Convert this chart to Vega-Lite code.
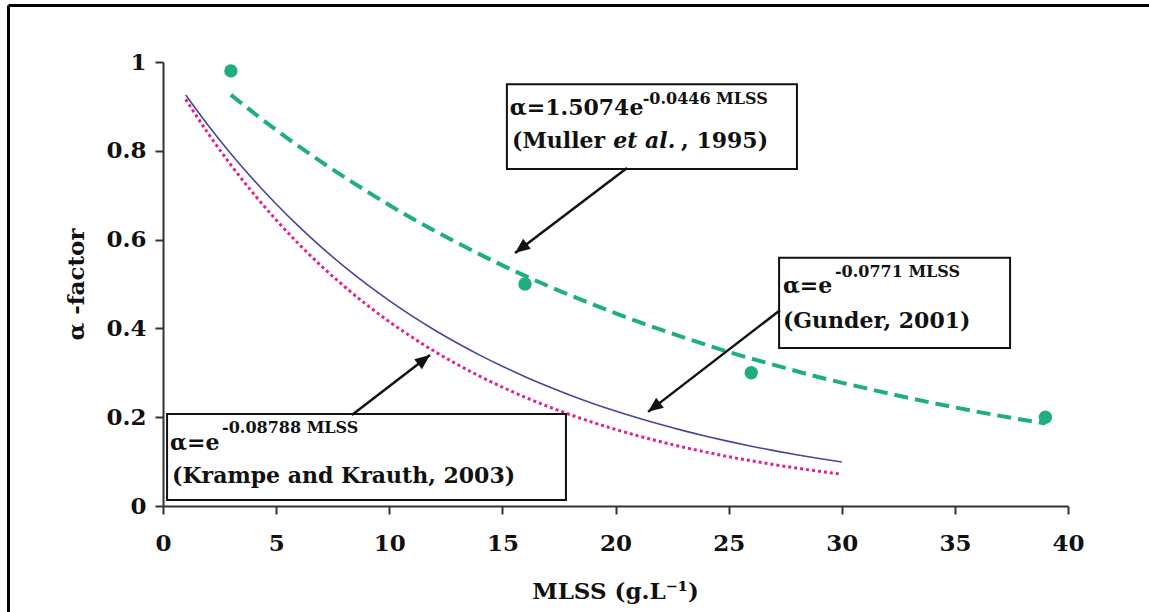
{
  "$schema": "https://vega.github.io/schema/vega-lite/v6.json",
  "width": 905,
  "height": 444,
  "autosize": {"type": "none"},
  "padding": {"left": 163, "top": 62, "right": 81, "bottom": 106},
  "background": "white",
  "config": {"view": {"stroke": null}, "font": "DejaVu Serif"},
  "datasets": {
    "curves": [
      {"series": "Muller", "x": 3, "y": 0.926}, {"series": "Muller", "x": 5, "y": 0.847}, {"series": "Muller", "x": 7, "y": 0.775},
      {"series": "Muller", "x": 9, "y": 0.709}, {"series": "Muller", "x": 11, "y": 0.648}, {"series": "Muller", "x": 13, "y": 0.593},
      {"series": "Muller", "x": 15, "y": 0.542}, {"series": "Muller", "x": 17, "y": 0.496}, {"series": "Muller", "x": 19, "y": 0.454},
      {"series": "Muller", "x": 21, "y": 0.415}, {"series": "Muller", "x": 23, "y": 0.380}, {"series": "Muller", "x": 25, "y": 0.347},
      {"series": "Muller", "x": 27, "y": 0.318}, {"series": "Muller", "x": 29, "y": 0.290}, {"series": "Muller", "x": 31, "y": 0.266},
      {"series": "Muller", "x": 33, "y": 0.243}, {"series": "Muller", "x": 35, "y": 0.222}, {"series": "Muller", "x": 37, "y": 0.203},
      {"series": "Muller", "x": 39, "y": 0.186},
      {"series": "Gunder", "x": 1, "y": 0.9258}, {"series": "Gunder", "x": 2, "y": 0.8571}, {"series": "Gunder", "x": 3, "y": 0.7935},
      {"series": "Gunder", "x": 4, "y": 0.7346}, {"series": "Gunder", "x": 5, "y": 0.6801}, {"series": "Gunder", "x": 6, "y": 0.6297},
      {"series": "Gunder", "x": 7, "y": 0.5829}, {"series": "Gunder", "x": 8, "y": 0.5397}, {"series": "Gunder", "x": 9, "y": 0.4996},
      {"series": "Gunder", "x": 10, "y": 0.4626}, {"series": "Gunder", "x": 11, "y": 0.4282}, {"series": "Gunder", "x": 12, "y": 0.3965},
      {"series": "Gunder", "x": 13, "y": 0.3671}, {"series": "Gunder", "x": 14, "y": 0.3398}, {"series": "Gunder", "x": 15, "y": 0.3146},
      {"series": "Gunder", "x": 16, "y": 0.2913}, {"series": "Gunder", "x": 17, "y": 0.2697}, {"series": "Gunder", "x": 18, "y": 0.2496},
      {"series": "Gunder", "x": 19, "y": 0.2311}, {"series": "Gunder", "x": 20, "y": 0.2140}, {"series": "Gunder", "x": 21, "y": 0.1981},
      {"series": "Gunder", "x": 22, "y": 0.1834}, {"series": "Gunder", "x": 23, "y": 0.1698}, {"series": "Gunder", "x": 24, "y": 0.1572},
      {"series": "Gunder", "x": 25, "y": 0.1455}, {"series": "Gunder", "x": 26, "y": 0.1347}, {"series": "Gunder", "x": 27, "y": 0.1247},
      {"series": "Gunder", "x": 28, "y": 0.1155}, {"series": "Gunder", "x": 29, "y": 0.1069}, {"series": "Gunder", "x": 30, "y": 0.0990},
      {"series": "Krampe", "x": 1, "y": 0.9159}, {"series": "Krampe", "x": 2, "y": 0.8388}, {"series": "Krampe", "x": 3, "y": 0.7683},
      {"series": "Krampe", "x": 4, "y": 0.7036}, {"series": "Krampe", "x": 5, "y": 0.6444}, {"series": "Krampe", "x": 6, "y": 0.5902},
      {"series": "Krampe", "x": 7, "y": 0.5406}, {"series": "Krampe", "x": 8, "y": 0.4951}, {"series": "Krampe", "x": 9, "y": 0.4534},
      {"series": "Krampe", "x": 10, "y": 0.4153}, {"series": "Krampe", "x": 11, "y": 0.3804}, {"series": "Krampe", "x": 12, "y": 0.3484},
      {"series": "Krampe", "x": 13, "y": 0.3191}, {"series": "Krampe", "x": 14, "y": 0.2922}, {"series": "Krampe", "x": 15, "y": 0.2676},
      {"series": "Krampe", "x": 16, "y": 0.2451}, {"series": "Krampe", "x": 17, "y": 0.2245}, {"series": "Krampe", "x": 18, "y": 0.2056},
      {"series": "Krampe", "x": 19, "y": 0.1883}, {"series": "Krampe", "x": 20, "y": 0.1725}, {"series": "Krampe", "x": 21, "y": 0.1580},
      {"series": "Krampe", "x": 22, "y": 0.1447}, {"series": "Krampe", "x": 23, "y": 0.1325}, {"series": "Krampe", "x": 24, "y": 0.1214},
      {"series": "Krampe", "x": 25, "y": 0.1111}, {"series": "Krampe", "x": 26, "y": 0.1018}, {"series": "Krampe", "x": 27, "y": 0.0932},
      {"series": "Krampe", "x": 28, "y": 0.0854}, {"series": "Krampe", "x": 29, "y": 0.0782}, {"series": "Krampe", "x": 30, "y": 0.0716}
    ],
    "obs": [
      {"x": 3, "y": 0.98}, {"x": 16, "y": 0.50}, {"x": 26, "y": 0.30}, {"x": 39, "y": 0.20}
    ],
    "boxes": [
      {"name": "Muller", "x": 15.20, "x2": 28.02, "y": 0.759, "y2": 0.950},
      {"name": "Gunder", "x": 27.23, "x2": 37.44, "y": 0.356, "y2": 0.559},
      {"name": "Krampe", "x": 0.18, "x2": 17.81, "y": 0.0135, "y2": 0.207}
    ],
    "arrows": [
      {"name": "Muller", "x": 20.51, "y": 0.761, "x2": 15.56, "y2": 0.570},
      {"name": "Gunder", "x": 27.27, "y": 0.441, "x2": 21.44, "y2": 0.212},
      {"name": "Krampe", "x": 8.35, "y": 0.205, "x2": 11.80, "y2": 0.340}
    ],
    "frame": [
      {"x": -6.83, "y": 1.127, "x2": 43.8, "y2": 1.127},
      {"x": -6.83, "y": 1.127, "x2": -6.83, "y2": -0.26}
    ],
    "labels": [
      {"kind": "main", "text": "α=1.5074e", "x": 15.33, "y": 0.881},
      {"kind": "main", "text": "(Muller ", "x": 15.43, "y": 0.806},
      {"kind": "ital", "text": "et al.", "x": 19.9, "y": 0.806},
      {"kind": "main", "text": ", 1995)", "x": 22.9, "y": 0.806},
      {"kind": "sup", "text": "-0.0446 MLSS", "x": 21.2, "y": 0.905},
      {"kind": "main", "text": "α=e", "x": 27.40, "y": 0.480},
      {"kind": "sup", "text": "-0.0771 MLSS", "x": 29.70, "y": 0.516},
      {"kind": "main", "text": "(Gunder, 2001)", "x": 27.40, "y": 0.401},
      {"kind": "main", "text": "α=e", "x": 0.31, "y": 0.126},
      {"kind": "sup", "text": "-0.08788 MLSS", "x": 2.61, "y": 0.164},
      {"kind": "main", "text": "(Krampe and Krauth, 2003)", "x": 0.40, "y": 0.052}
    ]
  },
  "encoding": {
    "x": {
      "field": "x", "type": "quantitative",
      "scale": {"domain": [0, 40], "nice": false, "zero": false},
      "axis": {
        "values": [0, 5, 10, 15, 20, 25, 30, 35, 40],
        "title": "MLSS (g.L⁻¹)",
        "grid": false, "labelFlush": false, "labelOverlap": false,
        "domainColor": "#333", "domainWidth": 2,
        "tickColor": "#333", "tickWidth": 2, "tickSize": 8,
        "labelFont": "DejaVu Serif", "labelFontSize": 23, "labelFontWeight": "bold", "labelColor": "#111", "labelPadding": 18,
        "titleFont": "DejaVu Serif", "titleFontSize": 23, "titleFontWeight": "bold", "titleColor": "#111",
        "titleX": 452, "titleY": 92, "titleBaseline": "alphabetic", "titleAlign": "center"
      }
    },
    "y": {
      "field": "y", "type": "quantitative",
      "scale": {"domain": [0, 1], "nice": false, "zero": false},
      "axis": {
        "values": [0, 0.2, 0.4, 0.6, 0.8, 1],
        "format": ".1~f",
        "title": "α -factor",
        "grid": false, "labelFlush": false, "labelOverlap": false,
        "domainColor": "#333", "domainWidth": 2,
        "tickColor": "#333", "tickWidth": 2, "tickSize": 8,
        "labelFont": "DejaVu Serif", "labelFontSize": 23, "labelFontWeight": "bold", "labelColor": "#111", "labelPadding": 9,
        "titleFont": "DejaVu Serif", "titleFontSize": 23, "titleFontWeight": "bold", "titleColor": "#111",
        "titleX": -80, "titleY": 222, "titleBaseline": "alphabetic", "titleAlign": "center", "titleAngle": -90
      }
    }
  },
  "layer": [
    {
      "data": {"name": "curves"},
      "transform": [{"filter": "datum.series === 'Krampe'"}],
      "mark": {"type": "line", "color": "#e3208c", "strokeWidth": 3, "strokeDash": [3, 3], "interpolate": "monotone"},
      "encoding": {"order": {"field": "x"}}
    },
    {
      "data": {"name": "curves"},
      "transform": [{"filter": "datum.series === 'Gunder'"}],
      "mark": {"type": "line", "color": "#45459e", "strokeWidth": 1.6, "interpolate": "monotone"},
      "encoding": {"order": {"field": "x"}}
    },
    {
      "data": {"name": "curves"},
      "transform": [{"filter": "datum.series === 'Muller'"}],
      "mark": {"type": "line", "color": "#1fae80", "strokeWidth": 4, "strokeDash": [14, 7], "interpolate": "monotone"},
      "encoding": {"order": {"field": "x"}}
    },
    {
      "data": {"name": "obs"},
      "mark": {"type": "point", "filled": true, "opacity": 1, "color": "#1fae80", "size": 180, "shape": "circle"}
    },
    {
      "data": {"name": "boxes"},
      "mark": {"type": "rect", "fill": "white", "stroke": "#111", "strokeWidth": 2},
      "encoding": {"x2": {"field": "x2"}, "y2": {"field": "y2"}}
    },
    {
      "data": {"name": "arrows"},
      "mark": {"type": "rule", "color": "#111", "strokeWidth": 2.5},
      "encoding": {"x2": {"field": "x2"}, "y2": {"field": "y2"}}
    },
    {
      "data": {"name": "arrows"},
      "transform": [{"filter": "datum.name !== 'Krampe'"}],
      "mark": {"type": "point", "filled": true, "opacity": 1, "color": "#111", "shape": "M0,0L-0.42,1L0.42,1Z", "size": 900, "angle": 232.5},
      "encoding": {"x": {"field": "x2", "type": "quantitative"}, "y": {"field": "y2", "type": "quantitative"}}
    },
    {
      "data": {"name": "arrows"},
      "transform": [{"filter": "datum.name === 'Krampe'"}],
      "mark": {"type": "point", "filled": true, "opacity": 1, "color": "#111", "shape": "M0,0L-0.42,1L0.42,1Z", "size": 900, "angle": 52.4},
      "encoding": {"x": {"field": "x2", "type": "quantitative"}, "y": {"field": "y2", "type": "quantitative"}}
    },
    {
      "data": {"name": "labels"},
      "transform": [{"filter": "datum.kind === 'main'"}],
      "mark": {"type": "text", "font": "DejaVu Serif", "fontSize": 22, "fontWeight": "bold", "color": "#111", "align": "left", "baseline": "alphabetic"},
      "encoding": {"text": {"field": "text"}}
    },
    {
      "data": {"name": "labels"},
      "transform": [{"filter": "datum.kind === 'ital'"}],
      "mark": {"type": "text", "font": "DejaVu Serif", "fontSize": 22, "fontWeight": "bold", "fontStyle": "italic", "color": "#111", "align": "left", "baseline": "alphabetic"},
      "encoding": {"text": {"field": "text"}}
    },
    {
      "data": {"name": "labels"},
      "transform": [{"filter": "datum.kind === 'sup'"}],
      "mark": {"type": "text", "font": "DejaVu Serif", "fontSize": 16, "fontWeight": "bold", "color": "#111", "align": "left", "baseline": "alphabetic"},
      "encoding": {"text": {"field": "text"}}
    },
    {
      "data": {"name": "frame"},
      "mark": {"type": "rule", "color": "#000", "strokeWidth": 3},
      "encoding": {"x2": {"field": "x2"}, "y2": {"field": "y2"}}
    }
  ]
}
